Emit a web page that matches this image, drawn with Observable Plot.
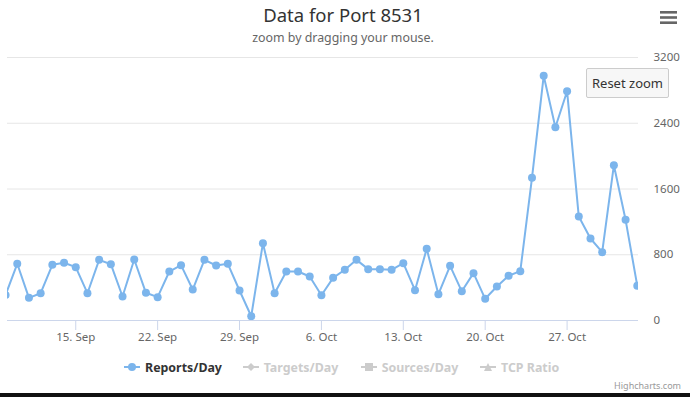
<!DOCTYPE html>
<html>
<head>
<meta charset="utf-8">
<script src="https://cdn.jsdelivr.net/npm/d3@7"></script>
<script src="https://cdn.jsdelivr.net/npm/@observablehq/plot@0.6"></script>
<style>
  html, body { margin: 0; padding: 0; background: #fff; }
  #wrap { position: relative; width: 690px; height: 397px; overflow: hidden; font-family: "Noto Sans", "DejaVu Sans", sans-serif; }
  #chart { position: absolute; left: 0; top: 0; }
  .abs { position: absolute; white-space: nowrap; }
  #title { left: 0; width: 686px; top: 2px; text-align: center; font-size: 18.5px; color: #333; }
  #subtitle { left: 0; width: 686px; top: 29px; text-align: center; font-size: 12.4px; color: #666; }
  #reset { left: 586px; top: 68px; width: 83px; height: 30px; box-sizing: border-box; background: #f7f7f7; border: 1px solid #cccccc; border-radius: 2px; font-size: 13px; color: #333; text-align: center; line-height: 28px; }
  #menu { left: 660px; top: 11px; }
  #legend { left: 0; top: 357px; height: 20px; width: 690px; font-size: 12.4px; }
  .item { position: absolute; top: 0; display: flex; align-items: center; height: 20px; }
  .item svg { margin-right: 5px; }
  #credit { right: 9px; top: 379px; font-size: 9px; color: #999; }
  #bottombar { left: 0; top: 393px; width: 690px; height: 4px; background: #111; }
</style>
</head>
<body>
<div id="wrap">
  <div id="chart"></div>
  <div id="title" class="abs">Data for Port 8531</div>
  <div id="subtitle" class="abs">zoom by dragging your mouse.</div>
  <div id="reset" class="abs">Reset zoom</div>
  <svg id="menu" class="abs" width="18" height="14"><rect x="0" y="0" width="17" height="2.6" fill="#666"/><rect x="0" y="5.2" width="17" height="2.6" fill="#666"/><rect x="0" y="10.4" width="17" height="2.6" fill="#666"/></svg>
  <div id="legend" class="abs"></div>
  <div id="credit" class="abs">Highcharts.com</div>
  <div id="bottombar" class="abs"></div>
</div>
<script>
// ---- data ----
const dates = [
  "2014-09-09","2014-09-10","2014-09-11","2014-09-12","2014-09-13","2014-09-14","2014-09-15",
  "2014-09-16","2014-09-17","2014-09-18","2014-09-19","2014-09-20","2014-09-21","2014-09-22",
  "2014-09-23","2014-09-24","2014-09-25","2014-09-26","2014-09-27","2014-09-28","2014-09-29",
  "2014-09-30","2014-10-01","2014-10-02","2014-10-03","2014-10-04","2014-10-05","2014-10-06",
  "2014-10-07","2014-10-08","2014-10-09","2014-10-10","2014-10-11","2014-10-12","2014-10-13",
  "2014-10-14","2014-10-15","2014-10-16","2014-10-17","2014-10-18","2014-10-19","2014-10-20",
  "2014-10-21","2014-10-22","2014-10-23","2014-10-24","2014-10-25","2014-10-26","2014-10-27",
  "2014-10-28","2014-10-29","2014-10-30","2014-10-31","2014-11-01","2014-11-02"
];
const reportsPerDay = [
  310, 690, 276, 332, 678, 702, 649,
  332, 738, 685, 292, 742, 337, 284,
  596, 673, 377, 738, 669, 690, 365,
  52, 941, 332, 596, 596, 535, 308,
  519, 617, 738, 625, 625, 617, 697,
  369, 872, 320, 665, 355, 576, 264,
  414, 544, 600, 1736, 2977, 2352, 2790,
  1265, 998, 831, 1890, 1225, 422
];
const yTicks = [0, 800, 1600, 2400, 3200];
const seriesNames = ["Reports/Day", "Targets/Day", "Sources/Day", "TCP Ratio"];
const seriesVisible = [true, false, false, false];
const seriesSymbols = ["circle", "diamond", "square", "triangle"];
const monthNames = ["Jan","Feb","Mar","Apr","May","Jun","Jul","Aug","Sep","Oct","Nov","Dec"];

const data = dates.map((d, i) => ({date: new Date(d + "T00:00:00Z"), value: reportsPerDay[i]}));

const blue = "#7cb5ec";

const chart = Plot.plot({
  width: 690,
  height: 397,
  marginLeft: 7,
  marginRight: 52,
  marginTop: 57,
  marginBottom: 77,
  style: {fontFamily: "'Noto Sans', 'DejaVu Sans', sans-serif", fontSize: "11px", background: "transparent", color: "#666", overflow: "visible"},
  x: {type: "utc", domain: [new Date("2014-09-09T04:00:00Z"), new Date("2014-11-02T02:30:00Z")], label: null},
  y: {domain: [0, 3200], label: null},
  marks: [
    Plot.gridY(yTicks, {stroke: "#e6e6e6", strokeOpacity: 1, strokeWidth: 1}),
    Plot.ruleY([0], {stroke: "#ccd6eb", strokeWidth: 1}),
    Plot.axisY(yTicks, {anchor: "right", label: null, tickSize: 0, tickPadding: 15, fill: "#666", fontSize: 11.5, textAnchor: "start", tickFormat: d3.format("d")}),
    Plot.axisX({
      ticks: d3.utcMonday.every(1),
      label: null,
      tickSize: 10,
      tickPadding: 2,
      stroke: "#ccd6eb",
      fill: "#666",
      fontSize: 11.5,
      tickFormat: d => `${d.getUTCDate()}. ${monthNames[d.getUTCMonth()]}`
    }),
    Plot.line(data, {x: "date", y: "value", stroke: blue, strokeWidth: 2, clip: true}),
    Plot.dot(data, {x: "date", y: "value", r: 4, fill: blue, stroke: "none", clip: true})
  ]
});
document.getElementById("chart").appendChild(chart);

// ---- legend ----
const legendX = [124, 242.7, 360.7, 480];
const legend = document.getElementById("legend");
seriesNames.forEach((name, i) => {
  const col = seriesVisible[i] ? blue : "#cccccc";
  const txtCol = seriesVisible[i] ? "#333333" : "#cccccc";
  const item = document.createElement("div");
  item.className = "item";
  item.style.left = legendX[i] + "px";
  let sym = "";
  if (seriesSymbols[i] === "circle") sym = `<circle cx="8" cy="7" r="4" fill="${col}"/>`;
  else if (seriesSymbols[i] === "diamond") sym = `<path d="M8 3 L12 7 L8 11 L4 7 Z" fill="${col}"/>`;
  else if (seriesSymbols[i] === "square") sym = `<rect x="4" y="3" width="8" height="8" fill="${col}"/>`;
  else sym = `<path d="M8 3 L12 11 L4 11 Z" fill="${col}"/>`;
  item.innerHTML = `<svg width="16" height="14"><line x1="0" y1="7" x2="16" y2="7" stroke="${col}" stroke-width="2"/>${sym}</svg>` +
    `<span style="color:${txtCol};font-weight:bold;">${name}</span>`;
  legend.appendChild(item);
});
</script>
</body>
</html>
